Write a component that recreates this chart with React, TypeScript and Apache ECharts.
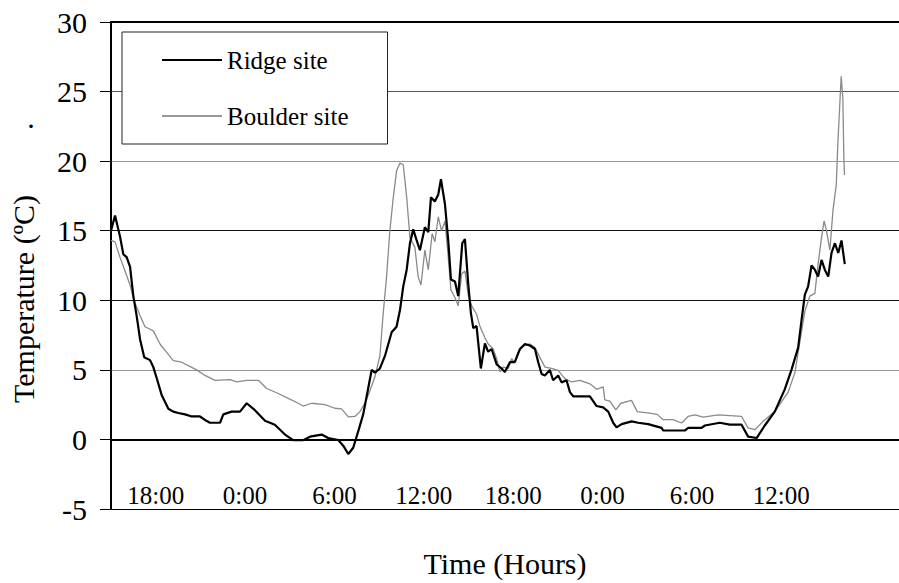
import React, { useEffect, useRef } from "react";
import * as echarts from "echarts";

// Hours counted from 0:00 of day 1
const ridgeHours = [
  15.0, 15.27, 15.6, 15.83, 16.05, 16.28, 16.5, 16.72, 16.95, 17.23, 17.62, 17.84, 18.07, 18.4, 18.85,
  19.18, 19.52, 19.97, 20.42, 20.97, 21.31, 21.64, 22.32, 22.54, 23.1, 23.66, 24.11, 24.66, 25.34, 26.0,
  26.68, 27.23, 27.9, 28.36, 29.14, 29.58, 30.26, 30.59, 30.93, 31.26, 31.6, 31.93, 32.27, 32.5, 32.72,
  33.05, 33.39, 33.84, 34.17, 34.4, 34.62, 34.85, 35.07, 35.29, 35.52, 35.74, 36.07, 36.3, 36.48, 36.74,
  36.97, 37.15, 37.42, 37.64, 37.82, 38.09, 38.31, 38.58, 38.76, 38.98, 39.16, 39.32, 39.54, 39.83, 40.1,
  40.32, 40.55, 40.89, 41.22, 41.44, 41.78, 42.11, 42.45, 42.79, 43.12, 43.46, 43.68, 43.91, 44.13, 44.46,
  44.68, 45.02, 45.25, 45.58, 45.81, 46.03, 47.15, 47.6, 48.04, 48.38, 48.71, 48.94, 49.28, 49.95, 50.39,
  51.06, 51.96, 52.07, 53.52, 53.75, 54.64, 54.87, 55.87, 56.54, 57.33, 57.77, 58.34, 58.89, 59.56, 60.23,
  60.68, 61.13, 61.36, 61.58, 61.8, 62.03, 62.25, 62.47, 62.7, 62.92, 63.15, 63.37, 63.6, 63.82, 64.04,
  64.26,
];
const ridgeTemps = [
  15.0, 16.1, 14.6, 13.3, 13.1, 12.4, 10.3, 8.9, 7.2, 5.9, 5.7, 5.2, 4.4, 3.2, 2.2,
  2.0, 1.9, 1.8, 1.65, 1.65, 1.4, 1.2, 1.2, 1.8, 2.0, 2.0, 2.6, 2.1, 1.35, 1.05,
  0.35, -0.05, -0.05, 0.2, 0.35, 0.1, -0.05, -0.45, -1.05, -0.6, 0.6, 1.8, 3.7, 5.0, 4.8,
  5.1, 6.0, 7.7, 8.1, 9.3, 11.0, 12.2, 14.1, 15.1, 14.3, 13.6, 15.25, 14.9, 17.4, 17.1,
  17.6, 18.7, 16.9, 14.3, 11.5, 11.35, 10.3, 14.1, 14.4, 11.2, 9.1, 8.0, 8.15, 5.1, 6.9,
  6.3, 6.5, 5.4, 5.1, 4.85, 5.55, 5.55, 6.5, 6.85, 6.75, 6.5, 5.55, 4.7, 4.6, 5.0,
  4.25, 4.6, 4.1, 4.25, 3.4, 3.1, 3.1, 2.4, 2.3, 2.0, 1.2, 0.87, 1.1, 1.3, 1.2,
  1.1, 0.83, 0.64, 0.64, 0.83, 0.83, 1.0, 1.2, 1.06, 1.06, 0.2, 0.1, 1.0, 2.0, 3.6,
  5.0, 6.6, 8.6, 10.4, 11.0, 12.5, 12.2, 11.7, 12.9, 12.2, 11.7, 13.4, 14.1, 13.4, 14.3,
  12.6,
];

const boulderHours = [
  15.0, 15.27, 15.6, 15.94, 16.28, 16.5, 16.61, 16.95, 17.28, 17.84, 18.29, 18.74, 19.18, 19.74, 20.19,
  20.75, 21.31, 21.98, 22.99, 23.44, 24.11, 24.89, 25.45, 26.23, 26.9, 27.57, 27.9, 28.47, 29.36, 30.03,
  30.48, 30.93, 31.38, 31.71, 32.05, 32.38, 32.72, 33.05, 33.27, 33.5, 33.72, 33.95, 34.17, 34.4, 34.62,
  34.85, 35.07, 35.4, 35.62, 35.81, 36.07, 36.3, 36.56, 36.74, 36.97, 37.19, 37.42, 37.64, 37.82, 38.09,
  38.31, 38.54, 38.76, 38.98, 39.21, 39.54, 39.76, 40.1, 40.32, 40.66, 40.89, 41.11, 41.33, 41.67, 41.89,
  42.11, 42.34, 42.68, 43.12, 43.46, 43.79, 44.13, 44.58, 45.02, 45.47, 45.92, 46.48, 47.15, 47.6, 48.04,
  48.15, 48.49, 48.89, 49.23, 49.95, 50.33, 51.17, 51.67, 52.06, 52.73, 53.3, 53.74, 54.2, 54.75, 55.76,
  57.33, 57.77, 58.22, 58.78, 59.56, 60.46, 60.91, 61.24, 61.58, 61.91, 62.25, 62.47, 62.7, 62.87, 63.03,
  63.26, 63.47, 63.69, 63.8, 64.02, 64.13, 64.2, 64.24,
];
const boulderTemps = [
  14.3, 14.2, 13.1, 12.1, 11.1, 10.2, 9.8, 8.9, 8.1, 7.8, 6.86, 6.26, 5.67, 5.55, 5.3,
  5.0, 4.6, 4.25, 4.3, 4.13, 4.25, 4.25, 3.66, 3.3, 2.95, 2.6, 2.4, 2.6, 2.5, 2.24,
  2.2, 1.62, 1.65, 2.0, 2.6, 3.5, 4.5, 6.0, 9.0, 11.7, 15.0, 17.4, 19.3, 19.86, 19.74,
  17.4, 14.5, 13.8, 11.7, 11.1, 13.6, 12.2, 14.8, 14.2, 16.0, 15.0, 15.7, 13.1, 10.75, 10.2,
  9.6, 11.9, 12.1, 10.4, 9.6, 9.0, 8.16, 7.3, 6.86, 6.5, 5.8, 4.85, 5.2, 5.1, 5.8,
  5.55, 6.26, 6.74, 6.86, 6.6, 5.9, 5.2, 5.1, 4.96, 4.37, 4.13, 4.25, 4.0, 3.6, 3.78,
  2.84, 2.75, 2.13, 2.6, 2.8, 2.0, 1.89, 1.8, 1.42, 1.42, 1.18, 1.65, 1.77, 1.6, 1.77,
  1.65, 0.83, 0.7, 1.3, 2.0, 3.4, 4.8, 7.0, 9.2, 10.3, 10.5, 12.6, 14.5, 15.7, 15.0,
  13.6, 16.5, 18.3, 21.4, 26.1, 24.5, 20.2, 19.0,
];

const tickHours = [18, 24, 30, 36, 42, 48, 54, 60];
const tickLabels = ["18:00", "0:00", "6:00", "12:00", "18:00", "0:00", "6:00", "12:00"];

const FONT = "Liberation Serif";

export default function App() {
  const ref = useRef<HTMLDivElement>(null);

  useEffect(() => {
    document.body.style.margin = "0";
    const chart = echarts.init(ref.current!, null, { renderer: "svg" });
    const ridgeData = ridgeHours.map((h, i) => [h, ridgeTemps[i]]);
    const boulderData = boulderHours.map((h, i) => [h, boulderTemps[i]]);

    chart.setOption({
      animation: false,
      backgroundColor: "#fff",
      textStyle: { fontFamily: FONT, color: "#000" },
      grid: { left: 111, right: 0, top: 22, bottom: 68, containLabel: false },
      legend: {
        orient: "vertical",
        left: 122,
        top: 32,
        padding: [15.5, 39, 15.5, 40],
        itemGap: 31,
        itemWidth: 60,
        itemHeight: 2,
        icon: "rect",
        borderColor: "#222",
        borderWidth: 1,
        backgroundColor: "#fff",
        textStyle: { fontFamily: FONT, fontSize: 25, color: "#000" },
        data: ["Ridge site", "Boulder site"],
      },
      xAxis: [
        {
          type: "value",
          min: 15,
          max: 67.9,
          name: "Time (Hours)",
          nameLocation: "middle",
          nameGap: 39,
          nameTextStyle: { fontFamily: FONT, fontSize: 30, color: "#000" },
          axisLine: { show: true, lineStyle: { color: "#000", width: 2 } },
          axisTick: { show: false },
          splitLine: { show: false },
          axisLabel: {
            inside: true,
            margin: 1,
            fontFamily: FONT,
            fontSize: 25,
            color: "#000",
            customValues: tickHours,
            formatter: (v: number) => {
              const i = tickHours.indexOf(Math.round(v));
              return i >= 0 ? tickLabels[i] : "";
            },
          },
        },
        {
          type: "value",
          position: "top",
          min: 15,
          max: 67.9,
          axisLine: { show: true, lineStyle: { color: "#000", width: 2 } },
          axisTick: { show: false },
          axisLabel: { show: false },
          splitLine: { show: false },
        },
      ],
      yAxis: {
        type: "value",
        min: -5,
        max: 30,
        interval: 5,
        axisLine: { show: true, lineStyle: { color: "#000", width: 2 } },
        axisTick: { show: true, length: 11, lineStyle: { color: "#000", width: 1 } },
        axisLabel: {
          margin: 24,
          fontFamily: FONT,
          fontSize: 30,
          color: "#000",
          showMinLabel: true,
          showMaxLabel: true,
        },
        splitLine: {
          show: true,
          lineStyle: {
            width: 1,
            color: ["#000", "#333", "#999", "#111", "#111", "#999", "#555", "#000"],
          },
        },
      },
      graphic: [
        {
          type: "text",
          x: 23,
          y: 299,
          rotation: Math.PI / 2,
          style: {
            text: "Temperature (ºC)",
            font: `30px '${FONT}'`,
            fill: "#000",
            textAlign: "center",
            textVerticalAlign: "middle",
          },
        },
        {
          type: "text",
          x: 31,
          y: 132,
          style: {
            text: ".",
            font: `30px '${FONT}'`,
            fill: "#000",
            textAlign: "center",
            textVerticalAlign: "bottom",
          },
        },
      ],
      series: [
        {
          name: "Ridge site",
          type: "line",
          data: ridgeData,
          symbol: "none",
          showSymbol: false,
          lineStyle: { color: "#000", width: 2.2 },
          itemStyle: { color: "#000" },
          z: 3,
        },
        {
          name: "Boulder site",
          type: "line",
          data: boulderData,
          symbol: "none",
          showSymbol: false,
          lineStyle: { color: "#8a8a8a", width: 1.3 },
          itemStyle: { color: "#999" },
          z: 2,
        },
      ],
    });
    return () => chart.dispose();
  }, []);

  return <div ref={ref} style={{ width: 899, height: 583 }} />;
}
